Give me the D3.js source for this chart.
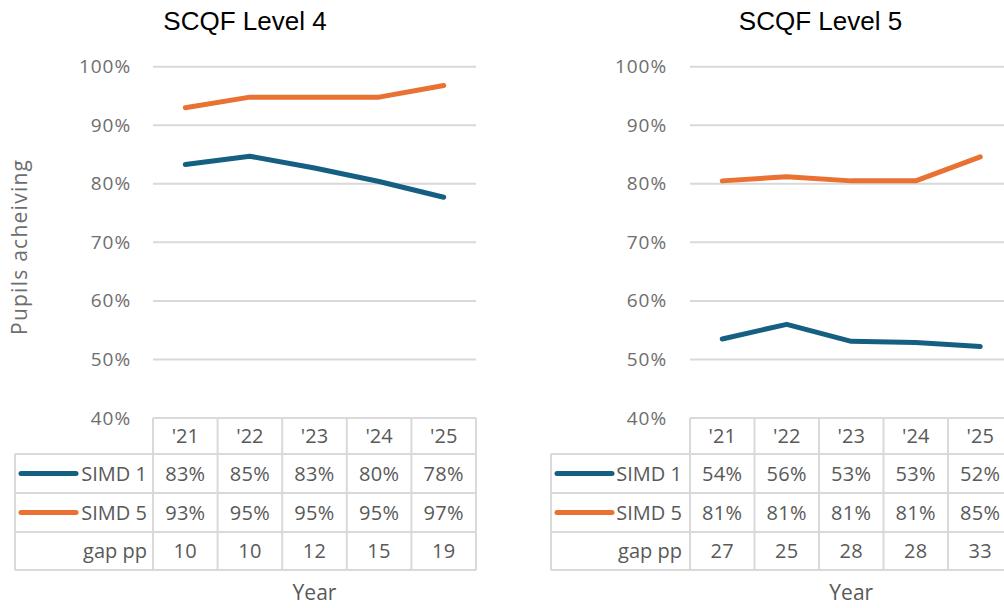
<!DOCTYPE html>
<html><head><meta charset="utf-8">
<script src="https://cdn.jsdelivr.net/npm/d3@7"></script>
<style>
html,body{margin:0;padding:0;background:#fff;overflow:hidden;}
text{font-family:"Open Sans","Noto Sans",sans-serif;}
</style></head>
<body>
<svg id="c" width="1004" height="608"></svg>
<script>
// ---- data ----
const years = ["'21", "'22", "'23", "'24", "'25"];
const yTicks = [40, 50, 60, 70, 80, 90, 100];
const seriesNames = ["SIMD 1", "SIMD 5"];
const seriesColors = ["#156082", "#E97132"];

const titleL4 = "SCQF Level 4";
const l4Simd1 = [83.3, 84.7, 82.7, 80.4, 77.7];
const l4Simd5 = [93.0, 94.8, 94.8, 94.8, 96.8];
const l4Simd1Text = ["83%", "85%", "83%", "80%", "78%"];
const l4Simd5Text = ["93%", "95%", "95%", "95%", "97%"];
const l4Gap = ["10", "10", "12", "15", "19"];

const titleL5 = "SCQF Level 5";
const l5Simd1 = [53.5, 56.0, 53.1, 52.9, 52.2];
const l5Simd5 = [80.5, 81.2, 80.5, 80.5, 84.6];
const l5Simd1Text = ["54%", "56%", "53%", "53%", "52%"];
const l5Simd5Text = ["81%", "81%", "81%", "81%", "85%"];
const l5Gap = ["27", "25", "28", "28", "33"];

const gapLabel = "gap pp";
const yTitle = "Pupils acheiving";
const xTitle = "Year";

// ---- drawing ----
const svg = d3.select("#c");
const grid = "#d9d9d9";
const textGray = "#595959";

const y = d3.scaleLinear().domain([40, 100]).range([418, 66.7]);
const rowB = [418, 454, 493, 532, 570]; // table row boundaries

function panel(cfg) {
  const g = svg.append("g");
  const x = d3.scaleBand().domain(years).range([cfg.x0, cfg.x1]).padding(0);
  const cx = d => x(d) + x.bandwidth() / 2;

  // title
  g.append("text").attr("x", cfg.titleX).attr("y", 30)
    .attr("text-anchor", "middle")
    .style("font-family", "'Liberation Sans', Arial, sans-serif")
    .style("font-size", "26px").attr("fill", "#000").text(cfg.title);

  // gridlines (50..100); 40 is table top
  g.selectAll("line.grid").data(yTicks).enter().append("line")
    .attr("x1", cfg.x0).attr("x2", cfg.x1)
    .attr("y1", d => y(d)).attr("y2", d => y(d))
    .attr("stroke", grid).attr("stroke-width", 2);

  // y tick labels
  g.selectAll("text.tick").data(yTicks).enter().append("text")
    .attr("x", cfg.tickX).attr("y", d => y(d) + 6.5)
    .attr("text-anchor", "end")
    .style("font-size", "19px").style("letter-spacing", "0.9px")
    .attr("fill", "#6e6e6e").text(d => d + "%");

  // table lines
  const tl = g.append("g").attr("stroke", grid).attr("stroke-width", 2);
  // horizontal lines for rows
  [rowB[1], rowB[2], rowB[3], rowB[4]].forEach(yy => {
    tl.append("line").attr("x1", cfg.tableX0).attr("x2", cfg.x1).attr("y1", yy).attr("y2", yy);
  });
  // vertical column lines
  const cols = years.map(d => x(d)).concat([cfg.x1]);
  cols.forEach(xx => {
    tl.append("line").attr("x1", xx).attr("x2", xx).attr("y1", rowB[0]).attr("y2", rowB[4]);
  });
  // left border of label column
  tl.append("line").attr("x1", cfg.tableX0).attr("x2", cfg.tableX0).attr("y1", rowB[1]).attr("y2", rowB[4]);

  const rowMid = i => (rowB[i] + rowB[i + 1]) / 2;

  // header
  g.selectAll("text.hdr").data(years).enter().append("text")
    .attr("x", d => cx(d)).attr("y", rowMid(0) + 7)
    .attr("text-anchor", "middle").style("font-size", "20px")
    .attr("fill", textGray).text(d => d);

  const rows = [cfg.t1, cfg.t5, cfg.gap];
  rows.forEach((arr, r) => {
    g.selectAll("text.r" + r).data(arr).enter().append("text")
      .attr("x", (d, i) => cx(years[i])).attr("y", rowMid(r + 1) + 7)
      .attr("text-anchor", "middle").style("font-size", "20px")
      .style("letter-spacing", "0.3px")
      .attr("fill", textGray).text(d => d);
  });

  // row labels + legend keys
  const labels = [seriesNames[0], seriesNames[1], gapLabel];
  labels.forEach((lab, r) => {
    g.append("text").attr("x", cfg.labelX).attr("y", rowMid(r + 1) + 7)
      .attr("text-anchor", "end").style("font-size", "20px")
      .attr("fill", textGray).text(lab);
    if (r < 2) {
      g.append("line").attr("x1", cfg.keyX0).attr("x2", cfg.keyX1)
        .attr("y1", rowMid(r + 1)).attr("y2", rowMid(r + 1))
        .attr("stroke", seriesColors[r]).attr("stroke-width", 5)
        .attr("stroke-linecap", "round");
    }
  });

  // series lines
  const line = d3.line().x((d, i) => cx(years[i])).y(d => y(d));
  [cfg.s1, cfg.s5].forEach((vals, k) => {
    g.append("path").datum(vals).attr("d", line)
      .attr("fill", "none").attr("stroke", seriesColors[k])
      .attr("stroke-width", 5).attr("stroke-linejoin", "round")
      .attr("stroke-linecap", "round");
  });

  // x title
  g.append("text").attr("x", (cfg.x0 + cfg.x1) / 2).attr("y", 600)
    .attr("text-anchor", "middle").style("font-size", "21px")
    .attr("fill", textGray).text(xTitle);
}

panel({title: titleL4, titleX: 245, x0: 153, x1: 476, tickX: 131, tableX0: 15,
  labelX: 147, keyX0: 21, keyX1: 76,
  s1: l4Simd1, s5: l4Simd5, t1: l4Simd1Text, t5: l4Simd5Text, gap: l4Gap});
panel({title: titleL5, titleX: 820.5, x0: 690, x1: 1012.5, tickX: 667, tableX0: 551,
  labelX: 682, keyX0: 557, keyX1: 612,
  s1: l5Simd1, s5: l5Simd5, t1: l5Simd1Text, t5: l5Simd5Text, gap: l5Gap});

// y axis title
svg.append("text").attr("transform", "translate(27,247.5) rotate(-90)")
  .attr("text-anchor", "middle").style("font-size", "21px")
  .attr("textLength", 175).attr("lengthAdjust", "spacing")
  .attr("fill", "#6e6e6e").text(yTitle);
</script>
</body></html>
